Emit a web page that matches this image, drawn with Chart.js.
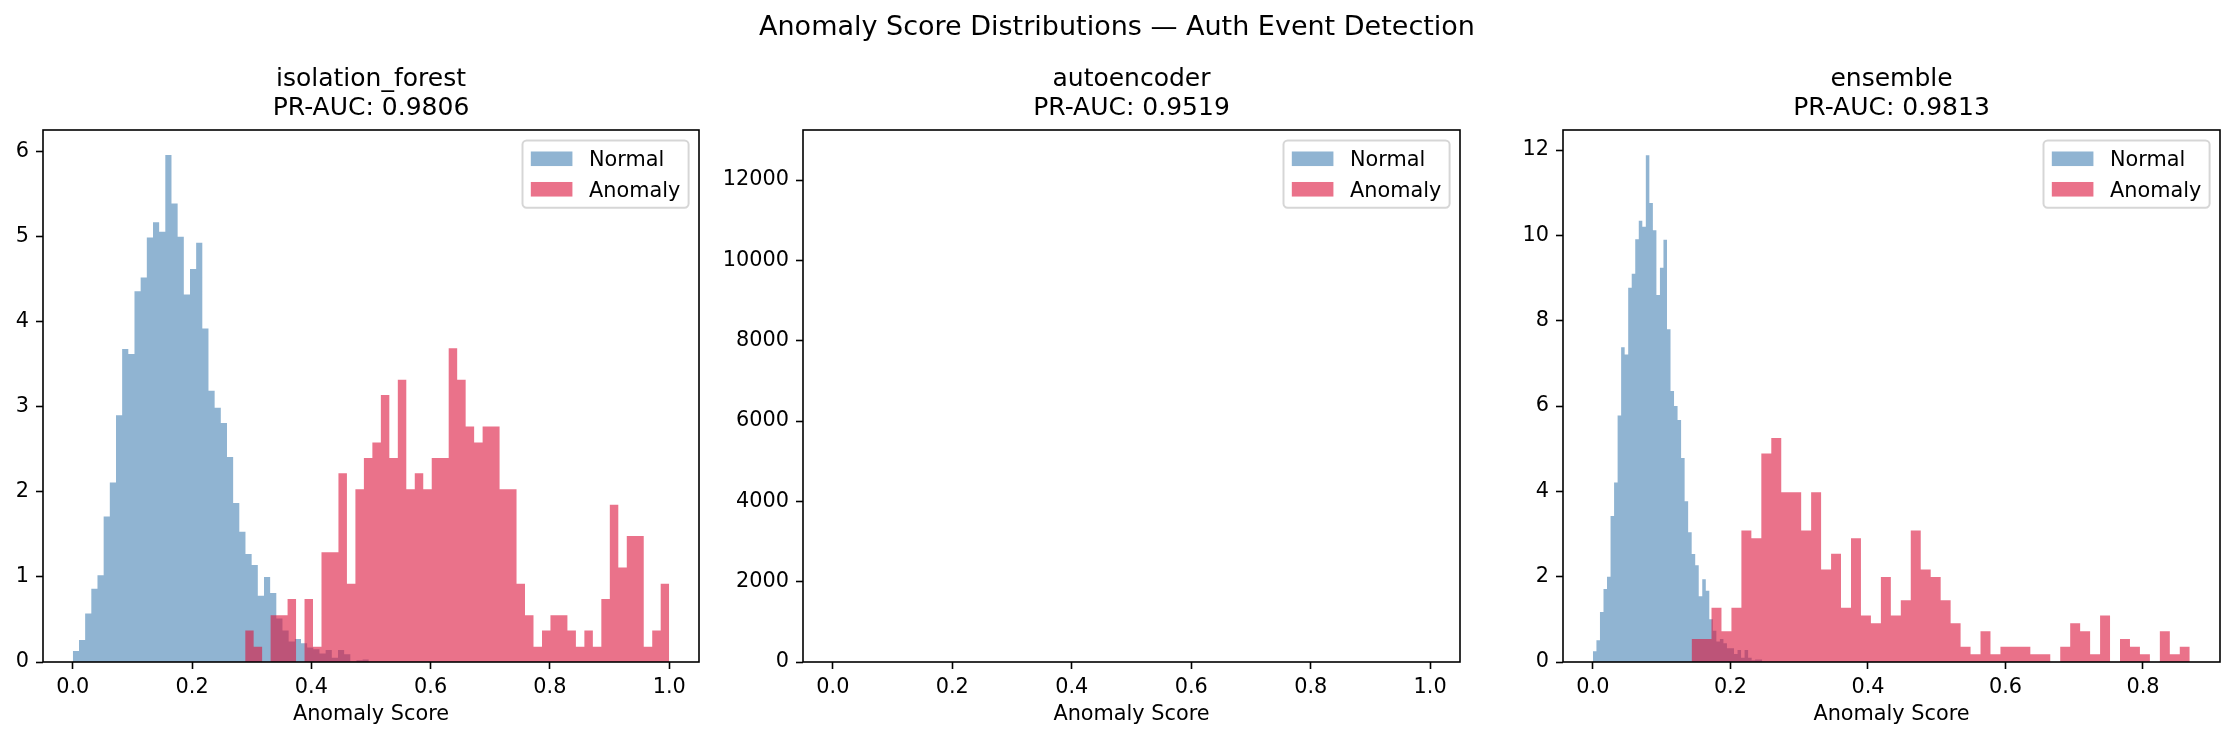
<!DOCTYPE html>
<html>
<head>
<meta charset="utf-8">
<title>Anomaly Score Distributions</title>
<script src="https://cdn.jsdelivr.net/npm/chart.js@4.4.1/dist/chart.umd.min.js"></script>
<style>
  html, body { margin: 0; padding: 0; background: #fff; }
  #fig { position: relative; width: 2234px; height: 740px; overflow: hidden; background: #fff; }
  #fig canvas { position: absolute; left: 0; top: 0; }
  #suptitle {
    position: absolute; left: 0; top: 10px; width: 2234px;
    text-align: center; font: 27px 'DejaVu Sans', sans-serif; color: #000;
  }
</style>
</head>
<body>
<div id="fig">
  <canvas id="chartIF" width="2234" height="740"></canvas>
  <canvas id="chartAE" width="2234" height="740"></canvas>
  <canvas id="chartEN" width="2234" height="740"></canvas>
  <div id="suptitle">Anomaly Score Distributions — Auth Event Detection</div>
</div>
<script>
// ---- data (density histograms, heights) ----
const seriesNames = ['Normal', 'Anomaly'];
const xTicksFull = [0, 0.2, 0.4, 0.6, 0.8, 1.0];
const xTicksEnsemble = [0, 0.2, 0.4, 0.6, 0.8];

// isolation_forest
const ifTitle = ['isolation_forest', 'PR-AUC: 0.9806'];
const ifNormalStart = 0.0;
const ifNormalWidth = 0.01034;
const ifNormal = [0.13, 0.26, 0.57, 0.86, 1.02, 1.71, 2.11, 2.90, 3.68, 3.62,
  4.36, 4.52, 4.99, 5.17, 5.06, 5.96, 5.39, 5.00, 4.32, 4.62,
  4.93, 3.92, 3.19, 2.99, 2.81, 2.41, 1.87, 1.53, 1.27, 1.14,
  0.78, 1.00, 0.81, 0.51, 0.37, 0.24, 0.27, 0.22, 0.17, 0.15,
  0.10, 0.14, 0.05, 0.14, 0.09, 0.00, 0.02, 0.03];
const ifAnomalyStart = 0.289;
const ifAnomalyWidth = 0.01422;
const ifAnomaly = [0.37, 0.18, 0, 0.55, 0.55, 0.74, 0, 0.74, 0.18, 1.29,
  1.29, 2.22, 0.92, 2.03, 2.40, 2.58, 3.14, 2.40, 3.32, 2.03,
  2.22, 2.03, 2.40, 2.40, 3.69, 3.32, 2.77, 2.58, 2.77, 2.77,
  2.03, 2.03, 0.92, 0.55, 0.18, 0.37, 0.55, 0.55, 0.37, 0.18,
  0.37, 0.18, 0.74, 1.85, 1.11, 1.48, 1.48, 0.18, 0.37, 0.92];
const ifYTicks = [0, 1, 2, 3, 4, 5, 6];

// autoencoder (bins are far thinner than a pixel, nothing shows)
const aeTitle = ['autoencoder', 'PR-AUC: 0.9519'];
const aeNormal = [];
const aeAnomaly = [];
const aeYTicks = [0, 2000, 4000, 6000, 8000, 10000, 12000];

// ensemble
const enTitle = ['ensemble', 'PR-AUC: 0.9813'];
const enNormalStart = 0.0;
const enNormalWidth = 0.00513;
const enNormal = [0.25, 0.51, 1.17, 1.71, 2.00, 3.42, 4.21, 5.78, 7.38, 7.21,
  8.77, 9.10, 9.91, 10.34, 10.20, 11.88, 10.76, 10.12, 8.60, 9.24,
  9.90, 7.80, 6.35, 6.00, 5.67, 4.78, 3.77, 3.04, 2.53, 2.27,
  1.54, 1.94, 1.67, 1.00, 0.73, 0.48, 0.54, 0.44, 0.32, 0.32,
  0.19, 0.28, 0.10, 0.28, 0.10, 0.04, 0.06, 0.06];
const enAnomalyStart = 0.1435;
const enAnomalyWidth = 0.01449;
const enAnomaly = [0.54, 0.54, 1.27, 0.72, 1.27, 3.08, 2.90, 4.89, 5.25, 3.98,
  3.98, 3.08, 3.98, 2.17, 2.54, 1.27, 2.90, 1.09, 0.91, 1.99,
  1.09, 1.45, 3.08, 2.17, 1.99, 1.45, 0.91, 0.36, 0.18, 0.72,
  0.18, 0.36, 0.36, 0.36, 0.18, 0.18, 0, 0.36, 0.91, 0.72,
  0.18, 1.09, 0, 0.54, 0.36, 0.18, 0, 0.72, 0.18, 0.36];
const enYTicks = [0, 2, 4, 6, 8, 10, 12];

const normalColor = 'rgba(70,130,180,0.6)';
const anomalyColor = 'rgba(220,20,60,0.6)';
const FS = 20.8; // 10pt at 150 dpi

Chart.defaults.font.family = "'DejaVu Sans', sans-serif";
Chart.defaults.color = '#000';

// histogram outline: bin edges + heights -> closed step path
function stepOutline(start, width, heights) {
  const pts = [{x: start, y: 0}];
  heights.forEach((h, i) => {
    pts.push({x: start + i * width, y: h});
    pts.push({x: start + (i + 1) * width, y: h});
  });
  pts.push({x: start + heights.length * width, y: 0});
  return pts;
}

const axesFrame = {
  id: 'axesFrame',
  afterDatasetsDraw(chart) {
    const {ctx, chartArea: a} = chart;
    ctx.save();
    ctx.strokeStyle = '#000';
    ctx.lineWidth = 1.6;
    ctx.strokeRect(a.left, a.top, a.right - a.left, a.bottom - a.top);
    ctx.restore();
  }
};

const boxLegend = {
  id: 'boxLegend',
  afterDraw(chart) {
    const {ctx, chartArea: a} = chart;
    const sets = chart.data.datasets;
    ctx.save();
    ctx.font = FS + "px 'DejaVu Sans'";
    const textW = Math.max(...sets.map(d => ctx.measureText(d.label).width));
    const pad = 0.4 * FS, handleW = 2 * FS, handleH = 0.7 * FS;
    const gap = 0.8 * FS, rowGap = 0.5 * FS, rowH = 20.1;
    const w = pad * 2 + handleW + gap + textW;
    const h = pad * 2 + rowH * sets.length + rowGap * (sets.length - 1);
    const x0 = a.right - 0.5 * FS - w;
    const y0 = a.top + 0.5 * FS;
    ctx.beginPath();
    ctx.roundRect(x0, y0, w, h, 0.2 * FS);
    ctx.fillStyle = 'rgba(255,255,255,0.8)';
    ctx.fill();
    ctx.lineWidth = 2;
    ctx.strokeStyle = 'rgba(204,204,204,0.8)';
    ctx.stroke();
    sets.forEach((d, i) => {
      const cy = y0 + pad + rowH / 2 + i * (rowH + rowGap);
      ctx.fillStyle = d.backgroundColor;
      ctx.fillRect(x0 + pad, cy - handleH / 2, handleW, handleH);
      ctx.fillStyle = '#000';
      ctx.textAlign = 'left';
      ctx.textBaseline = 'alphabetic';
      ctx.fillText(d.label, x0 + pad + handleW + gap, cy + handleH / 2);
    });
    ctx.restore();
  }
};

function histSet(label, color, start, width, heights, order) {
  return {
    label: label,
    data: stepOutline(start, width, heights),
    backgroundColor: color,
    borderColor: 'rgba(0,0,0,0)',
    borderWidth: 0,
    pointRadius: 0,
    tension: 0,
    fill: 'origin',
    order: order
  };
}

function makePanel(id, cfg) {
  return new Chart(document.getElementById(id), {
    type: 'line',
    data: {
      datasets: [
        histSet(seriesNames[0], normalColor, cfg.nStart, cfg.nWidth, cfg.normal, 1),
        histSet(seriesNames[1], anomalyColor, cfg.aStart, cfg.aWidth, cfg.anomaly, 0)
      ]
    },
    options: {
      responsive: false,
      animation: false,
      devicePixelRatio: 1,
      events: [],
      layout: { padding: { left: cfg.padLeft, right: cfg.padRight, top: 0, bottom: 0 } },
      plugins: {
        legend: { display: false },
        tooltip: { enabled: false },
        title: {
          display: true,
          text: cfg.title,
          fullSize: false,
          color: '#000',
          font: { size: 25, weight: 'normal', lineHeight: 1.176 },
          padding: { top: 64.3, bottom: 6.9 }
        }
      },
      scales: {
        x: {
          type: 'linear',
          min: cfg.xMin,
          max: cfg.xMax,
          afterBuildTicks: s => { s.ticks = cfg.xTicks.map(v => ({value: v})); },
          afterFit: s => { s.height = 78; },
          grid: { display: true, drawOnChartArea: false, drawTicks: true, tickLength: 7, tickColor: '#000', tickWidth: 1.6 },
          border: { display: false },
          ticks: { color: '#000', font: { size: FS }, padding: 6, maxRotation: 0, autoSkip: false,
                   callback: v => v.toFixed(1) },
          title: { display: true, text: 'Anomaly Score', color: '#000', font: { size: FS }, padding: { top: 0, bottom: 12.7 } }
        },
        y: {
          type: 'linear',
          min: 0,
          max: cfg.yMax,
          afterBuildTicks: s => { s.ticks = cfg.yTicks.map(v => ({value: v})); },
          afterFit: s => { s.width = cfg.yW; },
          grid: { display: true, drawOnChartArea: false, drawTicks: true, tickLength: 7, tickColor: '#000', tickWidth: 1.6 },
          border: { display: false },
          ticks: { color: '#000', font: { size: FS }, padding: 7, autoSkip: false,
                   callback: v => String(v) }
        }
      }
    },
    plugins: [axesFrame, boxLegend]
  });
}

makePanel('chartIF', {
  title: ifTitle, normal: ifNormal, anomaly: ifAnomaly,
  nStart: ifNormalStart, nWidth: ifNormalWidth, aStart: ifAnomalyStart, aWidth: ifAnomalyWidth,
  xMin: -0.05, xMax: 1.05, xTicks: xTicksFull, yMax: 6.255, yTicks: ifYTicks,
  padLeft: 0, yW: 43, padRight: 1535
});

makePanel('chartAE', {
  title: aeTitle, normal: aeNormal, anomaly: aeAnomaly,
  nStart: 0, nWidth: 0, aStart: 0, aWidth: 0,
  xMin: -0.05, xMax: 1.05, xTicks: xTicksFull, yMax: 13245, yTicks: aeYTicks,
  padLeft: 703, yW: 100, padRight: 774
});

makePanel('chartEN', {
  title: enTitle, normal: enNormal, anomaly: enAnomaly,
  nStart: enNormalStart, nWidth: enNormalWidth, aStart: enAnomalyStart, aWidth: enAnomalyWidth,
  xMin: -0.0435, xMax: 0.912, xTicks: xTicksEnsemble, yMax: 12.47, yTicks: enYTicks,
  padLeft: 1500, yW: 63, padRight: 14
});
</script>
</body>
</html>
